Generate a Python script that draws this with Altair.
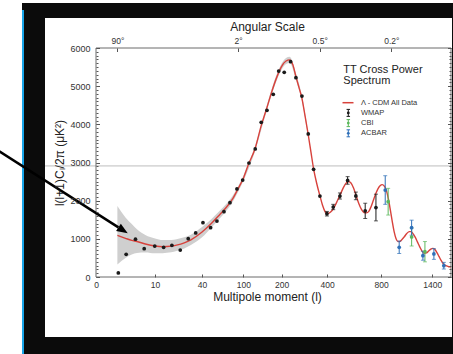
import altair as alt
import pandas as pd

# ---------------- data ----------------
# Lambda-CDM theory curve
curve_l = [2, 3, 4, 5, 7, 10, 13, 17, 20, 25, 30, 40, 50, 60, 70, 80, 90, 100, 110, 125,
           140, 155, 170, 185, 200, 215, 228, 240, 252, 265, 276, 290, 304, 317, 330, 345,
           360, 375, 390, 400, 420, 440, 460, 480, 500, 520, 535, 550, 570, 590, 610, 630,
           650, 670, 690, 710, 730, 750, 770, 790, 810, 830, 850, 870, 890, 910, 930, 950,
           970, 990, 1010, 1040, 1070, 1100, 1120, 1140, 1170, 1200, 1230, 1260, 1290, 1320,
           1350, 1380, 1410, 1440, 1470, 1500, 1530, 1560, 1590, 1620, 1650, 1690]
curve_d = [1092, 1014, 960, 930, 865, 812, 795, 808, 835, 895, 975, 1180, 1400, 1620, 1820,
           2040, 2320, 2590, 2940, 3360, 3960, 4430, 4880, 5250, 5520, 5660, 5690, 5560, 5250,
           4950, 4700, 4220, 3740, 3270, 2820, 2450, 2150, 1880, 1700, 1650, 1700, 1820, 1990,
           2170, 2350, 2470, 2500, 2470, 2330, 2120, 1920, 1770, 1690, 1680, 1720, 1850, 2020,
           2180, 2310, 2390, 2420, 2380, 2270, 2050, 1760, 1450, 1180, 1000, 930, 930, 970,
           1050, 1140, 1190, 1190, 1150, 1050, 920, 790, 680, 620, 630, 680, 730, 750, 720,
           640, 540, 440, 360, 310, 290, 270, 265]

# grey cosmic-variance band
band_l = [2, 3, 4, 5, 7, 10, 13, 17, 20, 25, 30, 40, 50, 60, 70, 80, 100, 125, 155, 185,
          215, 228, 252, 276, 304]
band_lo = [330, 500, 590, 630, 640, 620, 625, 650, 680, 750, 840, 1040, 1290, 1520, 1730,
           1960, 2520, 3290, 4360, 5170, 5580, 5610, 5170, 4630, 3680]
band_hi = [1860, 1560, 1390, 1250, 1100, 1010, 970, 970, 990, 1040, 1110, 1310, 1510, 1720,
           1910, 2120, 2660, 3430, 4500, 5330, 5740, 5770, 5330, 4770, 3800]

# WMAP
wmap_l = [2.1, 3.1, 4.7, 6.7, 9.9, 13.4, 17.4, 22.3, 27.9, 34.0, 40.9, 49.2, 57.0, 66.7,
          75.9, 87.8, 98.5, 111.4, 125.5, 140.2, 155.4, 173.5, 190.3, 208.8, 231.6, 252.0,
          276.6, 304.4, 329.7, 361.3, 399.0, 435.4, 476.8, 528.0, 587.0, 660.0, 752.0]
wmap_d = [105, 595, 990, 742, 812, 778, 830, 707, 1004, 1153, 1423, 1292, 1467, 1711, 1947,
          2306, 2541, 2987, 3354, 4053, 4367, 4787, 5397, 5363, 5641, 5222, 4742, 3747, 2822,
          2122, 1658, 1834, 2122, 2530, 2125, 1733, 1820]
wmap_err = [0, 0, 0, 0, 0, 0, 0, 0, 0, 0, 0, 0, 0, 0, 0, 0, 0, 0, 0, 0, 0, 0, 0, 0, 0, 0,
            0, 0, 0, 0, 60, 70, 80, 100, 100, 200, 350]
# CBI
cbi_l = [868, 1128, 1299]
cbi_d = [1973, 1048, 663]
cbi_err = [350, 236, 266]
# ACBAR
acbar_l = [839, 984, 1128, 1272, 1425, 1575]
acbar_d = [2279, 778, 1292, 558, 603, 296]
acbar_err = [375, 162, 197, 118, 140, 87]

series = ["Λ - CDM All Data", "WMAP", "CBI", "ACBAR"]
series_colors = ["#d8423c", "#1a1a1a", "#5cb85c", "#2f70b8"]
legend_title = ["TT Cross Power", "Spectrum"]

x_tick_values = [0.533, 10, 40, 100, 200, 400, 800, 1400]   # first one is labelled "0"
top_tick_l = [2, 90, 360, 900]                              # 90°, 2°, 0.5°, 0.2°
y_ticks = list(range(0, 6001, 1000))
y_minor = list(range(0, 6001, 100))
ref_line = 2910

# ---------------- tables ----------------
curve_df = pd.DataFrame({"l": curve_l, "d": curve_d})
band_df = pd.DataFrame({"l": band_l, "lo": band_lo, "hi": band_hi})
pts = pd.concat([
    pd.DataFrame({"series": "WMAP", "l": wmap_l, "d": wmap_d, "err": wmap_err}),
    pd.DataFrame({"series": "CBI", "l": cbi_l, "d": cbi_d, "err": cbi_err}),
    pd.DataFrame({"series": "ACBAR", "l": acbar_l, "d": acbar_d, "err": acbar_err}),
], ignore_index=True)
pts["lo"] = pts["d"] - pts["err"]
pts["hi"] = pts["d"] + pts["err"]
err_df = pts[pts["err"] > 0]
one = pd.DataFrame({"k": [0]})

W, H = 355, 229
RED = series_colors[0]

xs = alt.Scale(type="pow", exponent=0.25, domain=[0.533, 1690], nice=False, zero=False)
ys = alt.Scale(domain=[0, 6000], nice=False, zero=False)
cs = alt.Scale(domain=series, range=series_colors)


def X(f, axis=None):
    return alt.X(f, type="quantitative", scale=xs, axis=axis)


def Y(f, axis=None):
    return alt.Y(f, type="quantitative", scale=ys, axis=axis)


def tick_axis(orient, values, size, offset):
    return alt.Axis(orient=orient, values=values, offset=offset, labels=False, domain=False,
                    grid=False, ticks=True, tickSize=size, tickColor="#555", tickWidth=1,
                    title=None, zindex=2)


ax_left = alt.Axis(orient="left", values=y_ticks, format="d", ticks=False, domain=False,
                   grid=False, labelFontSize=9, labelColor="#333", labelPadding=6,
                   labelOverlap=False, title="l(l+1)Cₗ/2π (μK²)", titleFontSize=12,
                   titleFontWeight="normal", titleColor="#222", titlePadding=3, zindex=1)
ax_bottom = alt.Axis(orient="bottom", values=x_tick_values,
                     labelExpr="datum.value < 1 ? '0' : format(datum.value, 'd')",
                     ticks=False, domain=False, grid=False, labelFontSize=8.5,
                     labelColor="#333", labelPadding=3, labelFlush=False, labelOverlap=False,
                     title="Multipole moment (l)", titleFontSize=12, titleFontWeight="normal",
                     titleColor="#222", titlePadding=3, titleX=171, zindex=1)
ax_top = alt.Axis(orient="top", values=top_tick_l,
                  labelExpr="toString(180 / datum.value) + '°'",
                  ticks=False, domain=False, grid=False, labelFontSize=8.5, labelColor="#333",
                  labelPadding=3, labelFlush=False, labelOverlap=False,
                  title="Angular Scale", titleFontSize=12, titleFontWeight="normal",
                  titleColor="#222", titlePadding=3, titleX=171, zindex=1)

# ---------------- layers ----------------
bg = alt.Chart(one).mark_rect(color="#0b0b0b").encode(
    x=alt.value(-74), x2=alt.value(W + 10), y=alt.value(-45), y2=alt.value(H + 90))
panel = alt.Chart(one).mark_rect(color="white").encode(
    x=alt.value(-51), x2=alt.value(W + 1), y=alt.value(-30), y2=alt.value(289))
blue = alt.Chart(one).mark_rect(color="#19a6ea").encode(
    x=alt.value(-74), x2=alt.value(-72), y=alt.value(-38), y2=alt.value(H + 90))

refline = alt.Chart(pd.DataFrame({"v": [ref_line]})).mark_rule(
    color="#bdbdbd", strokeWidth=1).encode(x=alt.value(-51), x2=alt.value(W + 1), y=Y("v"))

band = alt.Chart(band_df).mark_area(color="#cfcfcf", interpolate="monotone").encode(
    x=X("l", ax_bottom), y=Y("lo", ax_left), y2="hi")

frame = alt.Chart(one).mark_rect(fillOpacity=0, stroke="#6a6a6a", strokeWidth=1).encode(
    x=alt.value(0), x2=alt.value(W), y=alt.value(0), y2=alt.value(H))

curve = alt.Chart(curve_df).mark_line(color=RED, strokeWidth=1.4, interpolate="monotone").encode(
    x=X("l"), y=Y("d"))

col = alt.Color("series:N", scale=cs, legend=None)
bars = alt.Chart(err_df).mark_rule(strokeWidth=1).encode(x=X("l"), y=Y("lo"), y2="hi", color=col)
cap_lo = alt.Chart(err_df).mark_tick(orient="horizontal", size=4, thickness=1).encode(
    x=X("l"), y=Y("lo"), color=col)
cap_hi = alt.Chart(err_df).mark_tick(orient="horizontal", size=4, thickness=1).encode(
    x=X("l"), y=Y("hi"), color=col)
points = alt.Chart(pts).mark_point(filled=True, size=14, opacity=1, shape="circle").encode(
    x=X("l"), y=Y("d"), color=col)

hidden = alt.Chart(curve_df).mark_point(opacity=0)
h1 = hidden.encode(x=X("l", tick_axis("top", x_tick_values[1:], 3, -H)),
                   y=Y("d", tick_axis("right", y_ticks, 3.5, -W)))
h2 = hidden.encode(x=X("l", tick_axis("bottom", top_tick_l, 3.5, -H)),
                   y=Y("d", tick_axis("right", y_minor, 2, -W)))
h3 = hidden.encode(x=X("l", ax_top),
                   y=Y("d", tick_axis("left", y_ticks, 3.5, -W)))
h4 = hidden.encode(x=X("l"), y=Y("d", tick_axis("left", y_minor, 2, -W)))

arrow_line = alt.Chart(one).mark_rule(color="black", strokeWidth=2.5).encode(
    x=alt.value(-97), y=alt.value(103.1), x2=alt.value(22.4), y2=alt.value(179.4))
arrow_head = alt.Chart(one).mark_point(shape="M1,0L-1,-0.8L-1,0.8Z", filled=True, color="black",
                                       size=121, opacity=1, angle=32.6).encode(
    x=alt.value(27.1), y=alt.value(182.3))

leg_title = alt.Chart(one).mark_text(text=legend_title, lineHeight=10.5, align="left",
                                     baseline="middle", fontSize=11, color="#222").encode(
    x=alt.value(247.3), y=alt.value(22))
leg_labels = alt.Chart(one).mark_text(text=series, lineHeight=10.2, align="left",
                                      baseline="middle", fontSize=7.5, color="#333").encode(
    x=alt.value(265), y=alt.value(54.7))
leg_line = alt.Chart(one).mark_rule(color=RED, strokeWidth=1.5).encode(
    x=alt.value(246.5), x2=alt.value(257.5), y=alt.value(54.7))
leg_syms = []
for i, c in enumerate(series_colors[1:]):
    yy = 54.7 + 10.2 * (i + 1)
    leg_syms.append(alt.Chart(one).mark_point(
        shape="M0,-1L0,1M-0.5,-1L0.5,-1M-0.5,1L0.5,1", filled=False, size=49, strokeWidth=1,
        color=c, opacity=1).encode(x=alt.value(252.3), y=alt.value(yy)))
    leg_syms.append(alt.Chart(one).mark_point(shape="circle", filled=True, size=8, color=c,
                                              opacity=1).encode(x=alt.value(252.3), y=alt.value(yy)))

chart = alt.layer(
    bg, panel, blue, refline, band, frame, curve, bars, cap_lo, cap_hi, points,
    h1, h2, h3, h4, arrow_line, arrow_head, leg_title, leg_labels, leg_line, *leg_syms
).properties(
    width=W, height=H,
    padding={"left": 96, "top": 48, "right": 2, "bottom": 77},
    autosize=alt.AutoSizeParams(type="none"),
    background="white",
).resolve_axis(x="independent", y="independent").configure(
    font="Liberation Sans"
).configure_view(stroke=None)

chart.save("out.html", embed_options={"renderer": "svg", "actions": False})
